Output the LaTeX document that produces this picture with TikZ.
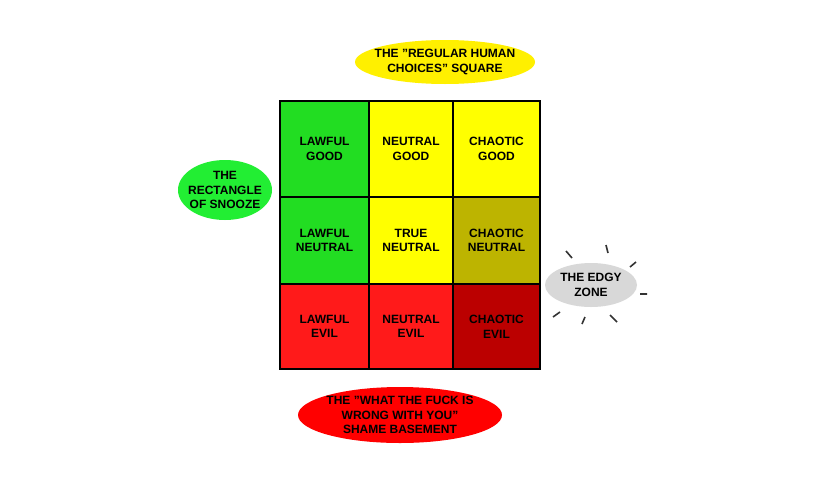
\documentclass[tikz,border=0pt]{standalone}
\usepackage{fontspec}
\setmainfont{Liberation Sans}
\definecolor{gG}{HTML}{22DD22}
\definecolor{yY}{HTML}{FFFF00}
\definecolor{oL}{HTML}{BDB400}
\definecolor{rR}{HTML}{FF1A1A}
\definecolor{dR}{HTML}{BB0000}
\definecolor{gB}{HTML}{22EE33}
\definecolor{yB}{HTML}{FFF000}
\definecolor{rB}{HTML}{FF0000}
\definecolor{grB}{HTML}{D8D8D8}
\tikzset{lbl/.style={align=center,font=\bfseries\small},
tick/.style={line width=1.2pt,black!80}}
\usetikzlibrary{shapes.geometric}
\begin{document}
\begin{tikzpicture}[x=0.75pt,y=-0.75pt]
\useasboundingbox[fill=white] (0,0) rectangle (820,493);
\foreach \xa/\xb/\ya/\yb/\c/\t [count=\i] in {
280/369/101/197/gG/{LAWFUL\\GOOD},369/453/101/197/yY/{NEUTRAL\\GOOD},453/540/101/197/yY/{CHAOTIC\\GOOD},
280/369/197/284/gG/{LAWFUL\\NEUTRAL},369/453/197/284/yY/{TRUE\\NEUTRAL},453/540/197/284/oL/{CHAOTIC\\NEUTRAL},
280/369/284/369/rR/{LAWFUL\\EVIL},369/453/284/369/rR/{NEUTRAL\\EVIL},453/540/284/369/dR/{CHAOTIC\\EVIL}}{
\fill[\c] (\xa,\ya) rectangle (\xb,\yb);
\node[lbl] (c\i) at ({(\xa+\xb)/2},{(\ya+\yb)/2}) {\t};
}
\draw[line width=1.5pt] (280,101) rectangle (540,369);
\draw[line width=1pt] (369,101)--(369,369) (453,101)--(453,369) (280,197)--(540,197) (280,284)--(540,284);
\fill[yB] (445,62) ellipse (90 and 22);
\node[lbl] (top) at (445,62) {THE "REGULAR HUMAN\\CHOICES" SQUARE};
\fill[gB] (225,190) ellipse (47 and 30);
\node[lbl] (left) at (225,190) {THE\\RECTANGLE\\OF SNOOZE};
\fill[grB] (591,285) ellipse (46 and 22);
\node[lbl] (right) at (591,285) {THE EDGY\\ZONE};
\draw[tick] (566,251)--(572,258) (606,245)--(608,253) (636,262)--(630,267) (640,294)--(647,294) (610,315)--(617,322) (585,317)--(582,324) (553,317)--(560,312);
\fill[rB] (400,415) ellipse (102 and 28);
\node[lbl] (bottom) at (400,415) {THE "WHAT THE FUCK IS\\WRONG WITH YOU"\\SHAME BASEMENT};
\end{tikzpicture}
\end{document}
